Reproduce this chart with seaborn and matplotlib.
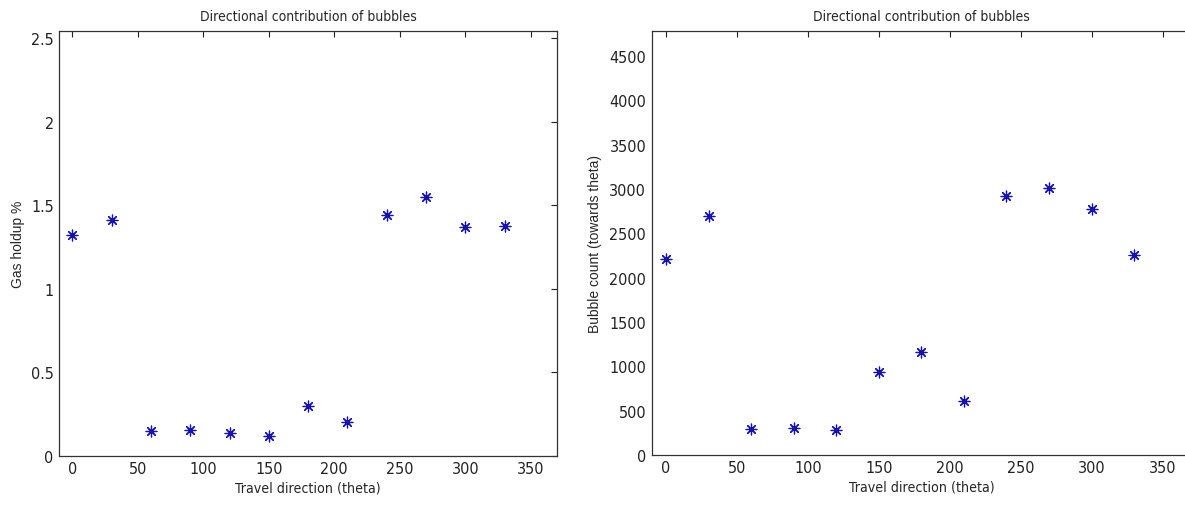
import numpy as np
import pandas as pd
import matplotlib
matplotlib.use("Agg")
import matplotlib.pyplot as plt
import seaborn as sns

# values
theta = [0, 30, 60, 90, 120, 150, 180, 210, 240, 270, 300, 330]
gas_holdup = [1.32, 1.415, 0.148, 0.156, 0.140, 0.118, 0.297, 0.202, 1.444, 1.548, 1.369, 1.376]
bubble_count = [2210, 2693, 290, 309, 279, 934, 1160, 603, 2926, 3016, 2775, 2259]

sns.set_style("white")
plt.rcParams['font.family'] = ['DejaVu Sans']
plt.rcParams['font.stretch'] = 'condensed'

df = pd.DataFrame({'theta': theta, 'holdup': gas_holdup, 'count': bubble_count})

fig = plt.figure(figsize=(11.85, 5.06), dpi=100)
ax1 = fig.add_axes([0.050, 0.097, 0.420, 0.840])
ax2 = fig.add_axes([0.550, 0.099, 0.455, 0.837])

star = (8, 2, 0)
blue = '#1414b4'

sns.scatterplot(data=df, x='theta', y='holdup', marker=star, color=blue,
                s=60, linewidth=0.9, ax=ax1)
sns.scatterplot(data=df, x='theta', y='count', marker=star, color=blue,
                s=60, linewidth=0.9, ax=ax2)

ylab_font = dict(family=['Liberation Sans', 'DejaVu Sans'], fontsize=10, stretch='normal')

ax1.set_xlim(-10, 370)
ax1.set_ylim(0, 2.545)
ax1.set_yticks([0, 0.5, 1, 1.5, 2, 2.5])
ax1.set_yticklabels(['0', '0.5', '1', '1.5', '2', '2.5'])
ax1.set_ylabel("Gas holdup %", labelpad=4, **ylab_font)

ax2.set_xlim(-10, 370)
ax2.set_ylim(0, 4780)
ax2.set_yticks(range(0, 5000, 500))
ax2.set_ylabel("Bubble count (towards theta)", labelpad=5, **ylab_font)

for ax in (ax1, ax2):
    ax.set_xticks(range(0, 400, 50))
    ax.set_title("Directional contribution of bubbles", fontsize=10, pad=8)
    ax.set_xlabel("Travel direction (theta)", fontsize=10.2, labelpad=3)
    ax.tick_params(direction='in', top=True, right=True, length=4, width=0.8,
                   labelsize=11.5, colors='#222222', pad=4)
    for sp in ax.spines.values():
        sp.set_color('#333333')
        sp.set_linewidth(0.9)

fig.savefig("out.png", dpi=100)
